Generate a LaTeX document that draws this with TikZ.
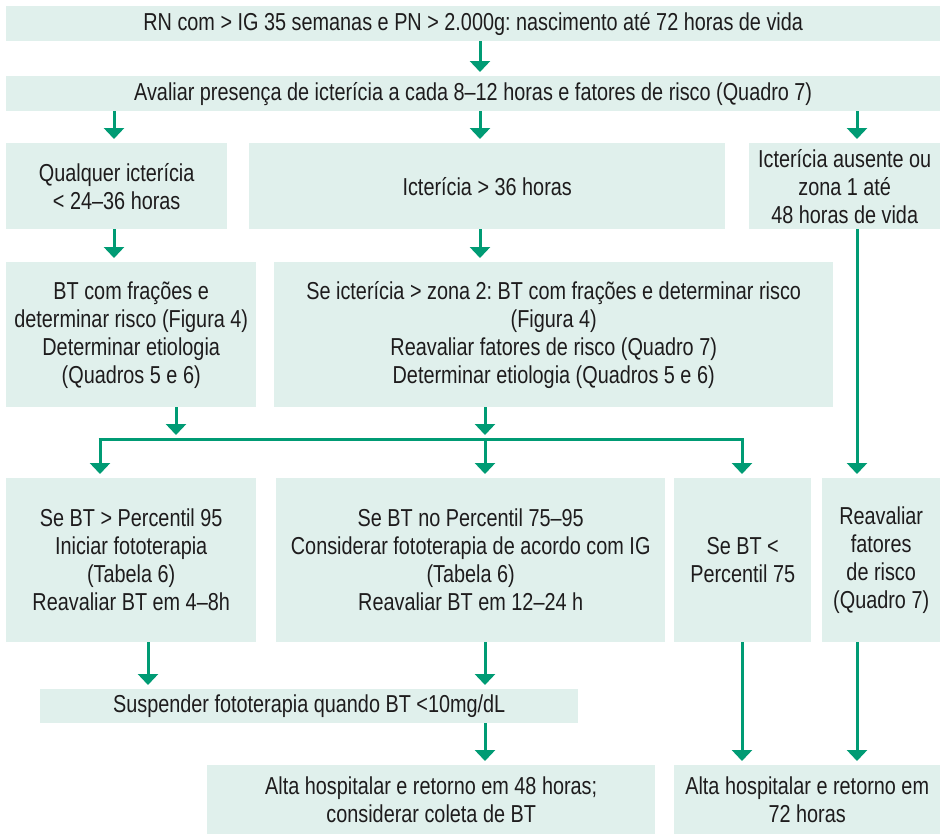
\documentclass[tikz,border=0pt]{standalone}
\usepackage{fontspec}
\setmainfont[FakeStretch=0.81]{Liberation Sans}
\usetikzlibrary{arrows.meta,calc}
\definecolor{boxfill}{HTML}{E0F0EC}
\definecolor{arrowgreen}{HTML}{009B74}
\definecolor{txt}{HTML}{1E1C1D}
\frenchspacing
\tikzset{
  box/.style={fill=boxfill, inner sep=0pt, align=center, text=txt, anchor=north west,
    font=\fontsize{24.5}{28}\selectfont},
  arr/.style={draw=arrowgreen, line width=3pt, -{Triangle[width=20pt,length=11pt]}, shorten >=4pt},
  ln/.style={draw=arrowgreen, line width=3pt}
}
\begin{document}
\begin{tikzpicture}[x=1pt,y=-1pt]
\useasboundingbox (0,0) rectangle (947,835);
% column coordinates
\coordinate (c1) at (114,0);
\coordinate (c2) at (480,0);
\coordinate (c3) at (857,0);
\coordinate (c4) at (176,0);
\coordinate (c5) at (485,0);
\coordinate (c6) at (100,0);
\coordinate (c7) at (742,0);
\coordinate (c8) at (148,0);
% boxes
\node[box, minimum width=934pt, minimum height=35pt] (T1) at (6,6)
  {RN com > IG 35 semanas e PN > 2.000g: nascimento até 72 horas de vida};
\node[box, minimum width=934pt, minimum height=35pt] (T2) at (6,76)
  {Avaliar presença de icterícia a cada 8–12 horas e fatores de risco (Quadro 7)};
\node[box, minimum width=221pt, minimum height=86pt] (A) at (6,143)
  {Qualquer icterícia\\< 24–36 horas};
\node[box, minimum width=476pt, minimum height=86pt] (B) at (249,143)
  {Icterícia > 36 horas};
\node[box, minimum width=191pt, minimum height=86pt] (C) at (749,143)
  {Icterícia ausente ou\\zona 1 até\\48 horas de vida};
\node[box, minimum width=250pt, minimum height=145pt] (A2) at (6,262)
  {BT com frações e\\determinar risco (Figura 4)\\Determinar etiologia\\(Quadros 5 e 6)};
\node[box, minimum width=559pt, minimum height=145pt] (B2) at (274,262)
  {Se icterícia > zona 2: BT com frações e determinar risco\\(Figura 4)\\Reavaliar fatores de risco (Quadro 7)\\Determinar etiologia (Quadros 5 e 6)};
\node[box, minimum width=250pt, minimum height=164pt] (D) at (6,478)
  {Se BT > Percentil 95\\Iniciar fototerapia\\(Tabela 6)\\Reavaliar BT em 4–8h};
\node[box, minimum width=389pt, minimum height=164pt] (E) at (276,478)
  {Se BT no Percentil 75–95\\Considerar fototerapia de acordo com IG\\(Tabela 6)\\Reavaliar BT em 12–24 h};
\node[box, minimum width=137pt, minimum height=164pt] (F) at (674,478)
  {Se BT <\\Percentil 75};
\node[box, minimum width=118pt, minimum height=164pt] (G) at (822,478)
  {Reavaliar\\fatores\\de risco\\(Quadro 7)};
\node[box, minimum width=538pt, minimum height=34pt] (S) at (40,689)
  {Suspender fototerapia quando BT <10mg/dL};
\node[box, minimum width=448pt, minimum height=69pt] (H) at (207,765)
  {Alta hospitalar e retorno em 48 horas;\\considerar coleta de BT};
\node[box, minimum width=266pt, minimum height=69pt] (I) at (674,765)
  {Alta hospitalar e retorno em\\72 horas};
% junction line
\coordinate (jl) at (100,439);
\coordinate (jr) at (742,439);
% connectors
\draw[arr] (T1.south -| c2) -- (T2.north -| c2);
\draw[arr] (T2.south -| c1) -- (A.north -| c1);
\draw[arr] (T2.south -| c2) -- (B.north -| c2);
\draw[arr] (T2.south -| c3) -- (C.north -| c3);
\draw[arr] (A.south -| c1) -- (A2.north -| c1);
\draw[arr] (B.south -| c2) -- (B2.north -| c2);
\draw[arr] (C.south -| c3) -- (G.north -| c3);
\draw[arr] (A2.south -| c4) -- (jl -| c4);
\draw[arr] (B2.south -| c5) -- (jl -| c5);
\draw[ln] ([xshift=-1.5pt]jl) -- ([xshift=1.5pt]jr);
\draw[arr] (jl) -- (D.north -| c6);
\draw[arr] (jl -| c5) -- (E.north -| c5);
\draw[arr] (jr) -- (F.north -| c7);
\draw[arr] (D.south -| c8) -- (S.north -| c8);
\draw[arr] (E.south -| c5) -- (S.north -| c5);
\draw[arr] (S.south -| c5) -- (H.north -| c5);
\draw[arr] (F.south -| c7) -- (I.north -| c7);
\draw[arr] (G.south -| c3) -- (I.north -| c3);
\end{tikzpicture}
\end{document}
